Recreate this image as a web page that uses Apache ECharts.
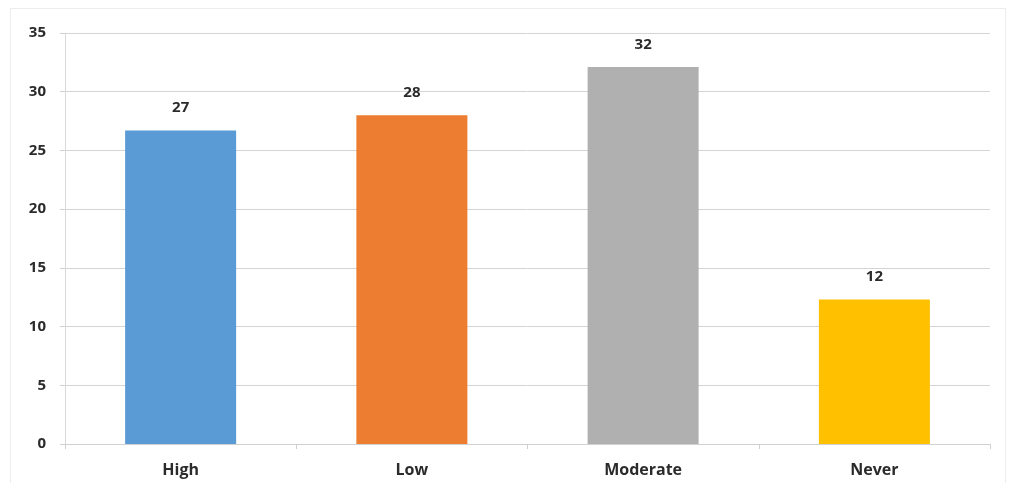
<!DOCTYPE html>
<html>
<head>
<meta charset="utf-8">
<script src="https://cdn.jsdelivr.net/npm/echarts@6/dist/echarts.min.js"></script>
<style>html,body{margin:0;padding:0;background:#fff;}#c{width:1010px;height:483px;}</style>
</head>
<body>
<div id="c"></div>
<script>
var categories = ['High', 'Low', 'Moderate', 'Never'];
var values = [26.7, 28.0, 32.1, 12.3];
var colors = ['#5b9bd5', '#ed7d31', '#b0b0b0', '#ffc000'];
var yTicks = [0, 5, 10, 15, 20, 25, 30, 35];

var chart = echarts.init(document.getElementById('c'));
chart.setOption({
  animation: false,
  graphic: [{type: 'rect', shape: {x: 10.5, y: 8.5, width: 995, height: 480}, style: {fill: 'none', stroke: '#ededed', lineWidth: 1}}],
  grid: {left: 65, right: 20, top: 33, bottom: 39},
  xAxis: {
    type: 'category',
    data: categories,
    axisLine: {lineStyle: {color: '#d0d0d0'}},
    axisTick: {show: true, length: 5, lineStyle: {color: '#d0d0d0'}},
    axisLabel: {color: '#2b2b2b', fontFamily: 'Open Sans', fontWeight: 'bold', fontSize: 16, margin: 18}
  },
  yAxis: {
    type: 'value',
    min: yTicks[0], max: yTicks[yTicks.length - 1], interval: 5,
    axisLine: {show: true, lineStyle: {color: '#d9d9d9'}},
    axisTick: {show: true, length: 5, lineStyle: {color: '#d0d0d0'}},
    splitLine: {lineStyle: {color: '#d4d4d4'}},
    axisLabel: {color: '#2b2b2b', fontFamily: 'Open Sans', fontWeight: 'bold', fontSize: 15, margin: 19}
  },
  series: [{
    type: 'bar',
    barWidth: '48%',
    data: values.map(function (v, i) { return {value: v, itemStyle: {color: colors[i]}}; }),
    label: {
      show: true, position: 'top', distance: 15,
      color: '#2b2b2b', fontFamily: 'Open Sans', fontWeight: 'bold', fontSize: 15,
      formatter: function (p) { return Math.round(p.value); }
    }
  }]
});
</script>
</body>
</html>
